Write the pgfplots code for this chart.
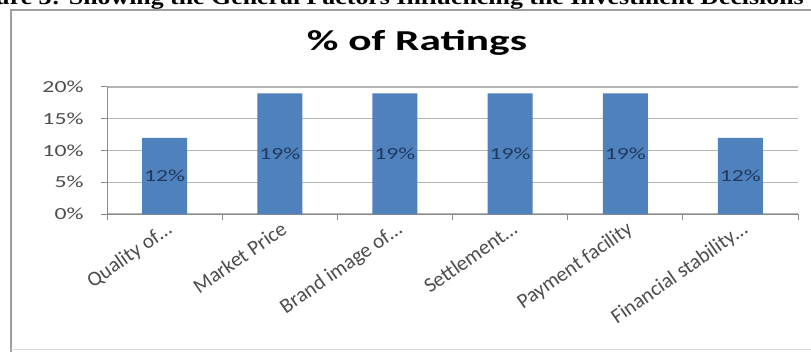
\documentclass[border=0pt]{standalone}
\usepackage{pgfplots}
\pgfplotsset{compat=1.18}
\usepackage{fontspec}
\setmainfont{Carlito}
\newfontfamily\headfont{Liberation Serif}
\definecolor{barblue}{HTML}{4F81BD}
\definecolor{lblnavy}{HTML}{1F3A60}
\definecolor{tickgray}{HTML}{4D4D4D}
\definecolor{gridgray}{HTML}{B4B4B4}
\definecolor{axgray}{HTML}{8C8C8C}
\begin{document}
\begin{tikzpicture}
\useasboundingbox (0bp,0bp) rectangle (811bp,354bp);
\clip (0bp,0bp) rectangle (811bp,354bp);
\fill[white] (0bp,0bp) rectangle (811bp,354bp);
% header (cut off at top)
\node[anchor=base east, inner sep=0pt] at (804bp,349bp) {\scalebox{1.18}[1]{\headfont\fontsize{22}{22}\selectfont\bfseries Figure 3: Showing the General Factors Influencing the Investment Decisions}};
% chart frame
\draw[gray!75, line width=2.5bp] (11bp,2bp) -- (11bp,344bp) -- (830bp,344bp);
\draw[gray!30, line width=1bp] (11bp,4bp) -- (830bp,4bp);
% title
\node[anchor=base, inner sep=0pt] at (417bp,303bp) {\scalebox{1.5}[1]{\fontsize{29}{30}\selectfont\bfseries \% of Ratings}};
\begin{axis}[
  at={(107bp,140bp)}, anchor=south west,
  scale only axis, width=691bp, height=127bp,
  ybar, bar width=45bp,
  xmin=-0.5, xmax=5.5, ymin=0, ymax=20,
  xtick={-0.5,0.5,1.5,2.5,3.5,4.5,5.5},
  x tick label as interval,
  xticklabels={Quality of…, Market Price, Brand image of…, Settlement…, Payment facility, Financial stability…},
  ytick={0,5,10,15,20},
  yticklabels={\scalebox{1.4}[1]{0\%},\scalebox{1.4}[1]{5\%},\scalebox{1.4}[1]{10\%},\scalebox{1.4}[1]{15\%},\scalebox{1.4}[1]{20\%}},
  axis x line*=bottom, axis y line*=left,
  axis line style={axgray, line width=1bp},
  tick align=outside, major tick length=6bp,
  tick style={axgray, line width=1bp},
  ymajorgrids, grid style={gridgray, line width=1.2bp},
  y tick label style={font=\fontsize{17}{17}\selectfont, text=tickgray, anchor=east, xshift=-14bp},
  x tick label style={font=\fontsize{21}{21}\selectfont, text=tickgray, rotate=35, anchor=north east, inner sep=1bp, xshift=1bp, yshift=1bp},
  nodes near coords={\scalebox{1.4}[1]{\pgfmathprintnumber[assume math mode=true]{\pgfplotspointmeta}\%}},
  visualization depends on={rawy \as \rawy},
  every node near coord/.append style={font=\fontsize{17}{17}\selectfont, text=lblnavy, anchor=center, shift={(axis direction cs:0,-\rawy/2)}},
  clip=false,
]
\addplot[fill=barblue, draw=none] coordinates {(0,12) (1,19) (2,19) (3,19) (4,19) (5,12)};
\end{axis}
\end{tikzpicture}
\end{document}
